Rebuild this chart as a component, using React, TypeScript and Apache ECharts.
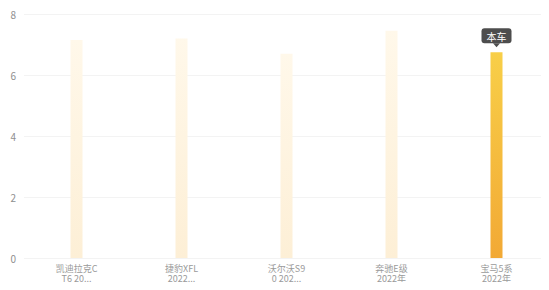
import React, { useEffect, useRef } from "react";
import * as echarts from "echarts";

const categories = ["凯迪拉克C\nT6 20...", "捷豹XFL\n2022...", "沃尔沃S9\n0 202...", "奔驰E级\n2022年", "宝马5系\n2022年"];
const values = [7.15, 7.2, 6.7, 7.45, 6.75];
const highlightIndex = 4;
const highlightText = "本车";
const yTicks = [0, 2, 4, 6, 8];

export default function App() {
  const ref = useRef<HTMLDivElement>(null);
  useEffect(() => {
    const chart = echarts.init(ref.current!, null, { renderer: "svg" });
    const pale = new echarts.graphic.LinearGradient(0, 0, 0, 1, [
      { offset: 0, color: "#fff8ea" },
      { offset: 1, color: "#fdefd6" },
    ]);
    const strong = new echarts.graphic.LinearGradient(0, 0, 0, 1, [
      { offset: 0, color: "#f8cf48" },
      { offset: 1, color: "#f2a935" },
    ]);
    chart.setOption({
      animation: false,
      textStyle: { fontFamily: "Noto Sans CJK SC" },
      grid: { left: 24, right: -5, top: 14, bottom: 32 },
      xAxis: {
        type: "category",
        data: categories,
        axisLine: { show: false },
        axisTick: { show: false },
        axisLabel: { color: "#9a9a9a", fontSize: 9, lineHeight: 10, margin: 5, fontFamily: "Noto Sans CJK SC" },
      },
      yAxis: {
        type: "value",
        min: yTicks[0],
        max: yTicks[yTicks.length - 1],
        interval: 2,
        axisLine: { show: false },
        axisTick: { show: false },
        axisLabel: { color: "#8f8f8f", fontSize: 10, margin: 8 },
        splitLine: { lineStyle: { color: "#f3f3f3", width: 1 } },
      },
      series: [
        {
          type: "bar",
          barWidth: 12,
          data: values.map((v, i) => ({
            value: v,
            itemStyle: { color: i === highlightIndex ? strong : pale },
            label:
              i === highlightIndex
                ? {
                    show: true,
                    position: "top",
                    distance: 9,
                    formatter: highlightText,
                    color: "#ffffff",
                    fontSize: 10,
                    backgroundColor: "#4d4d4d",
                    borderRadius: 3,
                    padding: [3, 5, 2, 5],
                  }
                : { show: false },
          })),
          markPoint: {
            silent: true,
            data: [
              {
                coord: [highlightIndex, values[highlightIndex]],
                symbol: "triangle",
                symbolRotate: 180,
                symbolSize: [7, 4],
                symbolOffset: [0, -7],
                itemStyle: { color: "#4d4d4d" },
                label: { show: false },
              },
            ],
          },
        },
      ],
    });
    return () => chart.dispose();
  }, []);
  return <div ref={ref} style={{ width: 549, height: 290, margin: -8 }} />;
}
